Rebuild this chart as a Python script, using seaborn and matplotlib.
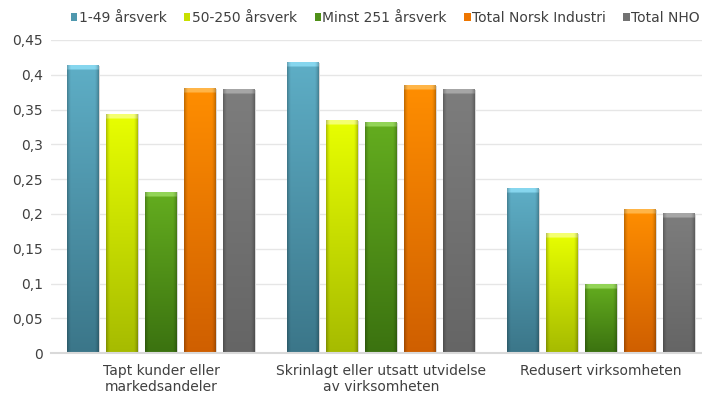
import numpy as np
import pandas as pd
import matplotlib
matplotlib.use("Agg")
import matplotlib.pyplot as plt
from matplotlib.colors import to_rgb
from matplotlib.patches import Patch
import seaborn as sns

categories = ["Tapt kunder eller\nmarkedsandeler",
              "Skrinlagt eller utsatt utvidelse\nav virksomheten",
              "Redusert virksomheten"]
series = ["1-49 årsverk", "50-250 årsverk", "Minst 251 årsverk",
          "Total Norsk Industri", "Total NHO"]
v_1_49 = [0.413, 0.417, 0.236]
v_50_250 = [0.343, 0.334, 0.171]
v_251 = [0.231, 0.331, 0.099]
v_industri = [0.380, 0.384, 0.206]
v_nho = [0.378, 0.378, 0.200]
yticks = [0, 0.05, 0.1, 0.15, 0.2, 0.25, 0.3, 0.35, 0.4, 0.45]
ytick_labels = ["0", "0,05", "0,1", "0,15", "0,2", "0,25", "0,3", "0,35", "0,4", "0,45"]

values = [v_1_49, v_50_250, v_251, v_industri, v_nho]
df = pd.DataFrame({
    "kategori": [c for _ in series for c in categories],
    "serie": [s for s in series for _ in categories],
    "andel": [v for vals in values for v in vals],
})

# (top, bottom, cap) shades for each series
shades = {
    "1-49 årsverk": ("#5eaec6", "#3b7689", "#86d6ee"),
    "50-250 årsverk": ("#e8ff00", "#a6bb00", "#f4ff70"),
    "Minst 251 årsverk": ("#64ad1f", "#3b7210", "#93d457"),
    "Total Norsk Industri": ("#ff8e00", "#cf5f00", "#ffb548"),
    "Total NHO": ("#7d7d7d", "#656565", "#a6a6a6"),
}
legend_cols = {
    "1-49 årsverk": "#4f98ae",
    "50-250 årsverk": "#c8e000",
    "Minst 251 årsverk": "#4f9018",
    "Total Norsk Industri": "#ee7600",
    "Total NHO": "#727272",
}
palette = {s: legend_cols[s] for s in series}

sns.set_theme(style="white")
plt.rcParams["font.family"] = ["DejaVu Sans"]
text_col = "#404040"

fig = plt.figure(figsize=(7.02, 3.95), dpi=100)
ax = fig.add_axes([0.0726, 0.106, 0.9274, 0.793])

sns.barplot(data=df, x="kategori", y="andel", hue="serie", order=categories,
            hue_order=series, palette=palette, width=0.886, gap=0.18,
            legend=False, saturation=1, ax=ax)

ylim = (0, 0.45)
px_per_unit = 313 / 0.45

# paint each bar with a shaded gradient and a light top bevel
for patch in list(ax.patches):
    fc = patch.get_facecolor()[:3]
    key = min(series, key=lambda s: np.sum((np.array(to_rgb(palette[s])) - np.array(fc)) ** 2))
    top, bot, cap = (np.array(to_rgb(c)) for c in shades[key])
    x0, w, h = patch.get_x(), patch.get_width(), patch.get_height()
    nrows = max(int(h * px_per_unit), 2)
    ncols = 32
    t = np.linspace(0, 1, nrows)[:, None, None]
    img = top * (1 - t) + bot * t
    img = np.repeat(img, ncols, axis=1)
    xs = np.linspace(-1, 1, ncols)
    side = 1 - 0.22 * np.clip((np.abs(xs) - 0.75) / 0.25, 0, 1) ** 1.5
    img = img * side[None, :, None]
    ncap = min(4, nrows)
    img[:ncap] = cap * side[None, :, None]
    img[ncap:ncap + 1] = (cap * 0.5 + top * 0.5) * side[None, :, None]
    img = np.clip(img, 0, 1)
    ax.imshow(img, extent=[x0, x0 + w, 0, h], origin="upper", aspect="auto",
              zorder=patch.get_zorder() + 0.1, interpolation="bilinear")
    patch.set_alpha(0)
    # soft shadow on the right side
    ax.fill_between([x0 + w, x0 + w + 0.006], 0, h, color="#d8d8d8",
                    zorder=patch.get_zorder(), linewidth=0)

ax.set_xlim(-0.5, 2.459)
ax.set_ylim(*ylim)
ax.set_yticks(yticks)
ax.set_yticklabels(ytick_labels, color=text_col, fontsize=10)
ax.set_xticks(range(len(categories)))
ax.set_xticklabels(categories, color=text_col, fontsize=10, linespacing=1.12)
ax.set_xlabel("")
ax.set_ylabel("")
ax.tick_params(axis="y", length=0, pad=6)
ax.tick_params(axis="x", length=0, pad=8)
ax.yaxis.grid(True, color="#e6e6e6", linewidth=1)
ax.set_axisbelow(True)
for s in ["top", "right", "left"]:
    ax.spines[s].set_visible(False)
ax.spines["bottom"].set_color("#d9d9d9")
ax.spines["bottom"].set_linewidth(1.5)

handles = [Patch(facecolor=legend_cols[s], edgecolor="none") for s in series]
fig.legend(handles, series, loc="upper left", bbox_to_anchor=(71 / 702, 1 - 11 / 395),
           ncol=5, frameon=False, fontsize=10, handlelength=0.45, handleheight=0.45,
           handletextpad=0.12, columnspacing=1.25, labelcolor=text_col,
           borderaxespad=0, borderpad=0)

fig.savefig("out.png", dpi=100, facecolor="white")
